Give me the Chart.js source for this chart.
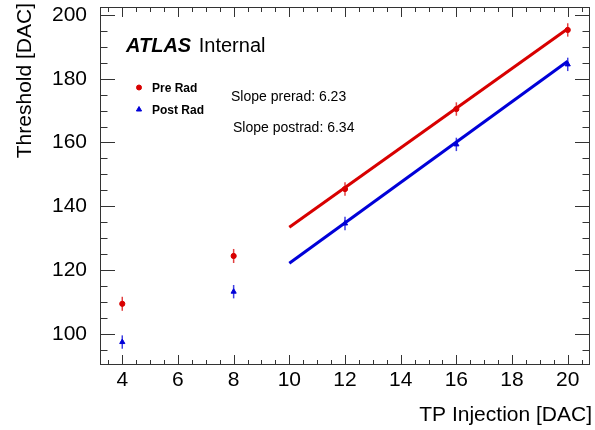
<!DOCTYPE html>
<html>
<head>
<meta charset="utf-8">
<script src="https://cdn.jsdelivr.net/npm/chart.js@4"></script>
<style>
  html, body { margin: 0; padding: 0; background: #fff; }
  #chart { display: block; }
</style>
</head>
<body>
<canvas id="chart" width="595" height="430"></canvas>
<script>
// threshold scan: pre/post irradiation
const injection = [4, 8, 12, 16, 20];
const preRad = [109.4, 124.4, 145.4, 170.5, 195.3];
const preErr = [2.2, 2.2, 2.1, 2.1, 2.1];
const postRad = [97.4, 113.2, 134.6, 159.4, 184.5];
const postErr = [2.1, 2.1, 2.1, 2.1, 2.1];

// linear fits over the upper range
const fitRange = [10, 20];
const slopes = [6.23, 6.34];
const intercepts = [71.1, 58.7];

const xTicks = [4, 6, 8, 10, 12, 14, 16, 18, 20];
const yTicks = [100, 120, 140, 160, 180, 200];

const RED = '#d80000';
const BLUE = '#0000d8';
const FONT = '"Liberation Sans", Arial, Helvetica, sans-serif';

const pts = (xs, ys) => xs.map((x, i) => ({ x, y: ys[i] }));
const fitPts = k => fitRange.map(x => ({ x, y: slopes[k] * x + intercepts[k] }));

// vertical error bars drawn through the scales
const errorBars = {
  id: 'errorBars',
  beforeDatasetsDraw(chart) {
    const { ctx, scales: { x, y } } = chart;
    const sets = [[preRad, preErr, 'rgba(216,0,0,0.75)'], [postRad, postErr, 'rgba(0,0,216,0.75)']];
    ctx.save();
    ctx.lineWidth = 1.5;
    sets.forEach(([vals, errs, col]) => {
      ctx.strokeStyle = col;
      vals.forEach((v, i) => {
        const px = x.getPixelForValue(injection[i]);
        ctx.beginPath();
        ctx.moveTo(px, y.getPixelForValue(v - errs[i]));
        ctx.lineTo(px, y.getPixelForValue(v + errs[i]));
        ctx.stroke();
      });
    });
    ctx.restore();
  }
};

// ROOT-like frame with inward ticks on all four sides
const frame = {
  id: 'frame',
  afterDraw(chart) {
    const { ctx, chartArea: a, scales: { x, y } } = chart;
    ctx.save();
    ctx.strokeStyle = '#333';
    ctx.lineWidth = 1;
    ctx.strokeRect(a.left + 0.5, a.top + 0.5, a.right - a.left - 1, a.bottom - a.top - 1);
    ctx.beginPath();
    for (let v = 3.5; v <= 20.5; v += 0.5) {
      const major = xTicks.includes(v);
      const len = major ? 10 : 5;
      const px = Math.round(x.getPixelForValue(v)) + 0.5;
      ctx.moveTo(px, a.bottom); ctx.lineTo(px, a.bottom - len);
      ctx.moveTo(px, a.top); ctx.lineTo(px, a.top + len);
    }
    for (let v = 95; v <= 200; v += 5) {
      const major = yTicks.includes(v);
      const len = major ? 15 : 7.5;
      const py = Math.round(y.getPixelForValue(v)) + 0.5;
      ctx.moveTo(a.left, py); ctx.lineTo(a.left + len, py);
      ctx.moveTo(a.right, py); ctx.lineTo(a.right - len, py);
    }
    ctx.stroke();

    // axis titles
    ctx.fillStyle = '#000';
    ctx.font = '21px ' + FONT;
    ctx.textAlign = 'right';
    ctx.textBaseline = 'alphabetic';
    ctx.fillText('TP Injection [DAC]', 592, 421);
    ctx.save();
    ctx.translate(31, 3);
    ctx.rotate(-Math.PI / 2);
    ctx.fillText('Threshold [DAC]', 0, 0);
    ctx.restore();

    // label
    ctx.textAlign = 'left';
    ctx.font = 'italic bold 20px ' + FONT;
    ctx.fillText('ATLAS', 126, 52);
    const w = ctx.measureText('ATLAS ').width;
    ctx.font = '20px ' + FONT;
    ctx.fillText('Internal', 126 + w + 2, 52);

    // legend
    ctx.font = 'bold 12px ' + FONT;
    ctx.fillText('Pre Rad', 152, 92);
    ctx.fillText('Post Rad', 152, 114);
    ctx.fillStyle = RED; ctx.strokeStyle = RED;
    Chart.helpers.drawPoint(ctx, { pointStyle: 'circle', radius: 2.5, borderWidth: 1 }, 139, 87.5);
    ctx.fillStyle = BLUE; ctx.strokeStyle = BLUE;
    Chart.helpers.drawPoint(ctx, { pointStyle: 'triangle', radius: 3, borderWidth: 1 }, 139, 109.5);

    // fit results
    ctx.fillStyle = '#000';
    ctx.font = '14px ' + FONT;
    ctx.fillText('Slope prerad: ' + slopes[0].toFixed(2), 231, 101);
    ctx.fillText('Slope postrad: ' + slopes[1].toFixed(2), 233, 132);
    ctx.restore();
  }
};

new Chart(document.getElementById('chart'), {
  type: 'scatter',
  data: {
    datasets: [
      { label: 'fit pre', data: fitPts(0), showLine: true, borderColor: RED, borderWidth: 3, pointRadius: 0 },
      { label: 'fit post', data: fitPts(1), showLine: true, borderColor: BLUE, borderWidth: 3, pointRadius: 0 },
      { label: 'Pre Rad', data: pts(injection, preRad), pointStyle: 'circle', pointRadius: 2.6,
        backgroundColor: RED, borderColor: RED, borderWidth: 1 },
      { label: 'Post Rad', data: pts(injection, postRad), pointStyle: 'triangle', pointRadius: 3,
        backgroundColor: BLUE, borderColor: BLUE, borderWidth: 1 }
    ]
  },
  options: {
    responsive: false,
    animation: false,
    events: [],
    layout: { padding: { top: 7, right: 2, left: 0, bottom: 0 } },
    plugins: { legend: { display: false }, tooltip: { enabled: false } },
    scales: {
      x: {
        type: 'linear', min: 3.2, max: 20.8,
        grid: { display: false }, border: { display: false },
        afterBuildTicks: s => { s.ticks = xTicks.map(v => ({ value: v })); },
        afterFit: s => { s.height = 65; s.paddingLeft = 0; s.paddingRight = 0; },
        ticks: { color: '#000', font: { family: FONT, size: 21 }, padding: -5, maxRotation: 0 }
      },
      y: {
        min: 90.2, max: 202.5,
        grid: { display: false }, border: { display: false },
        afterBuildTicks: s => { s.ticks = yTicks.map(v => ({ value: v })); },
        afterFit: s => { s.width = 100; s.paddingTop = 0; s.paddingBottom = 0; },
        ticks: { color: '#000', font: { family: FONT, size: 21 }, padding: 5 }
      }
    }
  },
  plugins: [errorBars, frame]
});
</script>
</body>
</html>
